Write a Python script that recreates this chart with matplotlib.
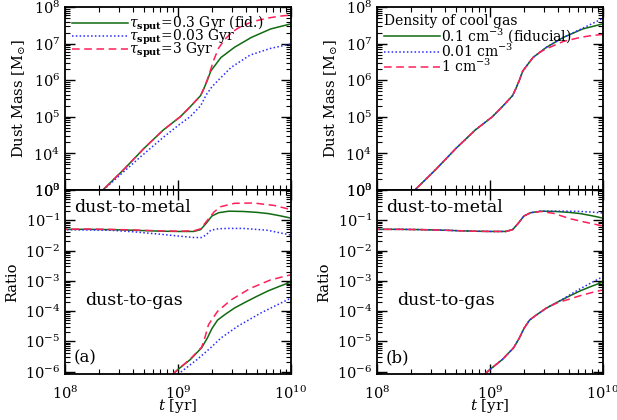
import matplotlib
matplotlib.use('Agg')
import matplotlib.pyplot as plt
from matplotlib.ticker import LogLocator
import numpy as np

plt.rcParams['font.family'] = ['DejaVu Serif']
plt.rcParams['mathtext.fontset'] = 'dejavuserif'
plt.rcParams['font.size'] = 10.5

# all values are log10 readings
# --- dust mass, panel (a) ---
lt_mass_fid = [8.20, 8.335, 8.52, 8.70, 8.87, 9.02, 9.11, 9.20, 9.23, 9.26, 9.29, 9.38, 9.50, 9.65, 9.82, 10.0]
lm_fid = [2.57, 3.00, 3.56, 4.14, 4.64, 5.00, 5.28, 5.58, 5.78, 6.00, 6.25, 6.62, 6.90, 7.17, 7.40, 7.54]

lt_mass_s3 = [8.20, 8.335, 8.52, 8.70, 8.87, 9.02, 9.11, 9.20, 9.23, 9.26, 9.29, 9.32, 9.36, 9.41, 9.47, 9.53, 9.62, 9.70, 9.80, 9.90, 10.0]
lm_s3 = [2.57, 3.00, 3.56, 4.14, 4.64, 5.00, 5.28, 5.58, 5.78, 6.02, 6.30, 6.58, 6.88, 7.10, 7.29, 7.42, 7.55, 7.63, 7.70, 7.75, 7.78]

lt_mass_s003 = [8.20, 8.335, 8.52, 8.67, 8.87, 9.00, 9.11, 9.20, 9.25, 9.30, 9.35, 9.47, 9.64, 9.82, 10.0]
lm_s003 = [2.55, 2.99, 3.50, 3.91, 4.44, 4.76, 5.01, 5.30, 5.60, 5.82, 5.98, 6.35, 6.69, 6.87, 6.99]

# --- dust mass, panel (b) (fiducial is the same run) ---
lt_mass_n001 = [8.20, 8.335, 8.52, 8.70, 8.87, 9.02, 9.11, 9.20, 9.23, 9.26, 9.29, 9.38, 9.50, 9.65, 9.80, 9.90, 10.0]
lm_n001 = [2.57, 3.00, 3.56, 4.14, 4.64, 5.00, 5.28, 5.58, 5.78, 6.00, 6.25, 6.62, 6.90, 7.17, 7.39, 7.54, 7.69]
lt_mass_n1 = [8.20, 8.335, 8.52, 8.70, 8.87, 9.02, 9.11, 9.20, 9.23, 9.26, 9.29, 9.38, 9.45, 9.50, 9.65, 9.80, 9.90, 10.0]
lm_n1 = [2.57, 3.00, 3.56, 4.14, 4.64, 5.00, 5.28, 5.58, 5.78, 6.00, 6.25, 6.62, 6.78, 6.86, 7.06, 7.17, 7.22, 7.25]

# --- dust-to-metal ratio ---
lt_dtm_fid = [7.95, 8.2, 8.4, 8.6, 8.84, 9.0, 9.14, 9.20, 9.25, 9.30, 9.36, 9.45, 9.58, 9.70, 9.80, 9.90, 10.0]
dtm_fid = [-1.30, -1.30, -1.31, -1.33, -1.36, -1.37, -1.37, -1.31, -1.10, -0.86, -0.75, -0.70, -0.71, -0.74, -0.78, -0.85, -0.93]
lt_dtm_s3 = [7.95, 8.2, 8.4, 8.6, 8.84, 9.0, 9.14, 9.20, 9.26, 9.32, 9.38, 9.50, 9.67, 9.85, 10.0]
dtm_s3 = [-1.30, -1.29, -1.30, -1.32, -1.35, -1.36, -1.35, -1.28, -1.00, -0.72, -0.55, -0.44, -0.43, -0.51, -0.65]
lt_dtm_s003 = [7.95, 8.2, 8.4, 8.6, 8.84, 9.0, 9.14, 9.21, 9.25, 9.29, 9.36, 9.44, 9.58, 9.79, 10.0]
dtm_s003 = [-1.31, -1.32, -1.33, -1.38, -1.46, -1.52, -1.57, -1.57, -1.48, -1.33, -1.28, -1.27, -1.27, -1.33, -1.49]
lt_dtm_n001 = [7.95, 8.2, 8.4, 8.6, 8.84, 9.0, 9.14, 9.20, 9.25, 9.30, 9.36, 9.45, 9.58, 9.70, 9.80, 9.90, 10.0]
dtm_n001 = [-1.30, -1.30, -1.31, -1.33, -1.36, -1.37, -1.37, -1.31, -1.10, -0.86, -0.75, -0.70, -0.70, -0.70, -0.71, -0.73, -0.76]
lt_dtm_n1 = [7.95, 8.2, 8.4, 8.6, 8.84, 9.0, 9.14, 9.20, 9.25, 9.30, 9.36, 9.45, 9.56, 9.71, 9.85, 10.0]
dtm_n1 = [-1.30, -1.30, -1.31, -1.33, -1.36, -1.37, -1.37, -1.31, -1.10, -0.86, -0.75, -0.71, -0.77, -0.95, -1.07, -1.19]

# --- dust-to-gas ratio ---
lt_dtg_fid = [8.95, 9.0, 9.11, 9.21, 9.26, 9.30, 9.35, 9.41, 9.50, 9.60, 9.70, 9.80, 9.90, 10.0]
dtg_fid = [-6.10, -5.93, -5.60, -5.21, -4.89, -4.58, -4.30, -4.13, -3.90, -3.70, -3.51, -3.33, -3.18, -3.04]
lt_dtg_s3 = [8.95, 9.0, 9.11, 9.21, 9.24, 9.27, 9.35, 9.47, 9.64, 9.82, 10.0]
dtg_s3 = [-6.10, -5.93, -5.58, -5.19, -4.85, -4.45, -4.01, -3.63, -3.25, -2.97, -2.80]
lt_dtg_s003 = [9.0, 9.02, 9.17, 9.29, 9.38, 9.53, 9.73, 10.0]
dtg_s003 = [-6.10, -6.03, -5.60, -5.21, -4.89, -4.50, -4.07, -3.57]
lt_dtg_n001 = [8.95, 9.0, 9.11, 9.21, 9.26, 9.30, 9.35, 9.41, 9.50, 9.60, 9.70, 9.80, 9.90, 10.0]
dtg_n001 = [-6.10, -5.93, -5.60, -5.21, -4.89, -4.58, -4.30, -4.13, -3.90, -3.70, -3.48, -3.26, -3.06, -2.86]
lt_dtg_n1 = [8.95, 9.0, 9.11, 9.21, 9.26, 9.30, 9.35, 9.41, 9.50, 9.60, 9.70, 9.80, 9.90, 10.0]
dtg_n1 = [-6.10, -5.93, -5.60, -5.21, -4.89, -4.58, -4.30, -4.13, -3.90, -3.72, -3.61, -3.49, -3.39, -3.30]

labels_a = [r'$\tau_{\mathbf{sput}}$=0.3 Gyr (fid.)', r'$\tau_{\mathbf{sput}}$=0.03 Gyr', r'$\tau_{\mathbf{sput}}$=3 Gyr']
labels_b = [r'0.1 cm$^{-3}$ (fiducial)', r'0.01 cm$^{-3}$', r'1 cm$^{-3}$']

green = '#106a10'
blue = '#2a2aff'
red = '#ff1f5a'
dot = (0, (1, 1.5))
dash = (0, (5, 3))


def p(x):
    return 10 ** np.array(x)


fig = plt.figure(figsize=(6.17, 4.2), dpi=100)
W, H = 617.0, 420.0
axes = {}
for col, x0 in enumerate([65, 377]):
    ax_top = fig.add_axes([x0 / W, 1 - 190 / H, 226 / W, 183 / H])
    ax_bot = fig.add_axes([x0 / W, 1 - 374 / H, 226 / W, 184 / H])
    axes[col] = (ax_top, ax_bot)
    for ax in (ax_top, ax_bot):
        ax.set_xscale('log')
        ax.set_yscale('log')
        ax.set_xlim(1e8, 1e10)
        ax.yaxis.set_major_locator(LogLocator(base=10, numticks=20))
        ax.yaxis.set_minor_locator(LogLocator(base=10, subs=np.arange(2, 10), numticks=20))
        ax.tick_params(which='both', direction='in', top=True, right=True)
        ax.tick_params(which='major', length=7, width=1)
        ax.tick_params(which='minor', length=3.5, width=0.8)
        ax.tick_params(axis='x', pad=8)
        for s in ax.spines.values():
            s.set_linewidth(1.3)
    ax_top.set_ylim(1e3, 1e8)
    ax_top.set_xticklabels([])
    ax_top.set_ylabel(r'Dust Mass [M$_{\odot}$]')
    ax_bot.set_ylim(8.3e-7, 1.0)
    ax_bot.set_ylabel('Ratio')
    ax_bot.set_xlabel(r'$t$ [yr]', fontsize=11, labelpad=-4)

lw = 1.1
# panel (a)
ax, axb = axes[0]
ax.plot(p(lt_mass_fid), p(lm_fid), color=green, lw=lw, label=labels_a[0])
ax.plot(p(lt_mass_s003), p(lm_s003), color=blue, lw=lw, ls=dot, label=labels_a[1])
ax.plot(p(lt_mass_s3), p(lm_s3), color=red, lw=lw, ls=dash, label=labels_a[2])
ax.legend(loc='upper left', frameon=False, fontsize=10, handlelength=4.0, handletextpad=0.1,
          labelspacing=-0.45, borderaxespad=0.3, borderpad=0.2)

axb.plot(p(lt_dtm_fid), p(dtm_fid), color=green, lw=lw)
axb.plot(p(lt_dtm_s003), p(dtm_s003), color=blue, lw=lw, ls=dot)
axb.plot(p(lt_dtm_s3), p(dtm_s3), color=red, lw=lw, ls=dash)
axb.plot(p(lt_dtg_fid), p(dtg_fid), color=green, lw=lw)
axb.plot(p(lt_dtg_s003), p(dtg_s003), color=blue, lw=lw, ls=dot)
axb.plot(p(lt_dtg_s3), p(dtg_s3), color=red, lw=lw, ls=dash)
axb.text(0.04, 0.905, 'dust-to-metal', transform=axb.transAxes, fontsize=12.5, va='center')
axb.text(0.09, 0.40, 'dust-to-gas', transform=axb.transAxes, fontsize=12.5, va='center')
axb.text(0.04, 0.09, '(a)', transform=axb.transAxes, fontsize=12, va='center')

# panel (b)
ax, axb = axes[1]
ax.plot(p(lt_mass_fid), p(lm_fid), color=green, lw=lw, label=labels_b[0])
ax.plot(p(lt_mass_n001), p(lm_n001), color=blue, lw=lw, ls=dot, label=labels_b[1])
ax.plot(p(lt_mass_n1), p(lm_n1), color=red, lw=lw, ls=dash, label=labels_b[2])
ax.legend(loc='upper left', frameon=False, fontsize=10, handlelength=4.0, handletextpad=0.1,
          labelspacing=-0.15, borderaxespad=0.3, borderpad=0.2,
          title='Density of cool gas', title_fontsize=10, alignment='left')

axb.plot(p(lt_dtm_fid), p(dtm_fid), color=green, lw=lw)
axb.plot(p(lt_dtm_n001), p(dtm_n001), color=blue, lw=lw, ls=dot)
axb.plot(p(lt_dtm_n1), p(dtm_n1), color=red, lw=lw, ls=dash)
axb.plot(p(lt_dtg_fid), p(dtg_fid), color=green, lw=lw)
axb.plot(p(lt_dtg_n001), p(dtg_n001), color=blue, lw=lw, ls=dot)
axb.plot(p(lt_dtg_n1), p(dtg_n1), color=red, lw=lw, ls=dash)
axb.text(0.04, 0.905, 'dust-to-metal', transform=axb.transAxes, fontsize=12.5, va='center')
axb.text(0.09, 0.40, 'dust-to-gas', transform=axb.transAxes, fontsize=12.5, va='center')
axb.text(0.04, 0.09, '(b)', transform=axb.transAxes, fontsize=12, va='center')

fig.savefig('out.png', dpi=100)
